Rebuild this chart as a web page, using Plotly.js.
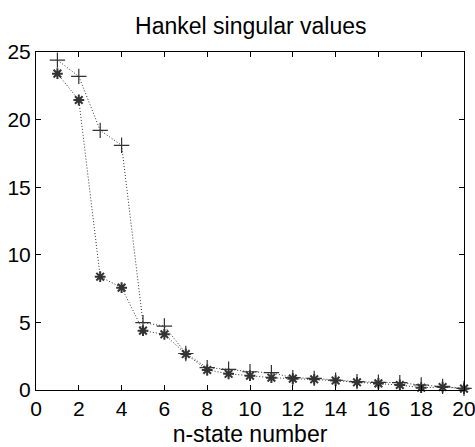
<!DOCTYPE html>
<html>
<head>
<meta charset="utf-8">
<script src="https://cdn.plot.ly/plotly-3.0.1.min.js"></script>
<style>html,body{margin:0;padding:0;background:#fff;overflow:hidden;}#chart{width:475px;height:447px;}</style>
</head>
<body>
<div id="chart"></div>
<script>
const nState = [1,2,3,4,5,6,7,8,9,10,11,12,13,14,15,16,17,18,19,20];
const hsvPlus = [24.4,23.2,19.2,18.1,4.98,4.73,2.7,1.65,1.53,1.35,1.28,0.91,0.86,0.72,0.62,0.57,0.54,0.37,0.27,0.12];
const hsvStar = [23.4,21.45,8.38,7.57,4.39,4.12,2.66,1.48,1.2,1.06,0.91,0.84,0.79,0.7,0.57,0.49,0.37,0.17,0.22,0.1];
const xTicks = [0,2,4,6,8,10,12,14,16,18,20];
const yTicks = [0,5,10,15,20,25];

const font = 'Liberation Sans, Arial, sans-serif';
const traces = [
  {x: nState, y: hsvPlus, mode: 'lines+markers', type: 'scatter', cliponaxis: false,
   line: {color: '#333', width: 1, dash: '1px,2px'},
   marker: {symbol: 'cross-thin-open', size: 11, line: {color: '#000', width: 1.2}}},
  {x: nState, y: hsvStar, mode: 'lines+markers', type: 'scatter', cliponaxis: false,
   line: {color: '#333', width: 1, dash: '1px,2px'},
   marker: {symbol: 'asterisk-open', size: 9, line: {color: '#000', width: 2}}}
];
const layout = {
  width: 475, height: 447,
  margin: {l: 36, r: 11, t: 52, b: 57, pad: 0},
  showlegend: false,
  paper_bgcolor: '#fff', plot_bgcolor: '#fff',
  font: {family: font, color: '#000'},
  title: {text: 'Hankel singular values', font: {family: font, size: 23, color: '#000'},
          x: 0.528, xanchor: 'center', y: 0.942, yanchor: 'middle'},
  xaxis: {range: [0, 20], tickvals: xTicks, ticktext: xTicks.map(String),
          ticks: 'inside', ticklen: 5, tickwidth: 1, tickcolor: '#000',
          showline: true, linecolor: '#000', linewidth: 1, mirror: 'ticks',
          showgrid: false, zeroline: false, ticklabeloverflow: 'allow',
          tickfont: {family: font, size: 21, color: '#000'},
          title: {text: 'n-state number', font: {family: font, size: 23, color: '#000'}, standoff: 8}},
  yaxis: {range: [0, 25], tickvals: yTicks, ticktext: yTicks.map(String),
          ticks: 'inside', ticklen: 5, tickwidth: 1, tickcolor: '#000',
          showline: true, linecolor: '#000', linewidth: 1, mirror: 'ticks',
          showgrid: false, zeroline: false, ticklabeloverflow: 'allow',
          tickfont: {family: font, size: 21, color: '#000'}}
};
Plotly.newPlot('chart', traces, layout, {displayModeBar: false, staticPlot: true});
</script>
</body>
</html>
